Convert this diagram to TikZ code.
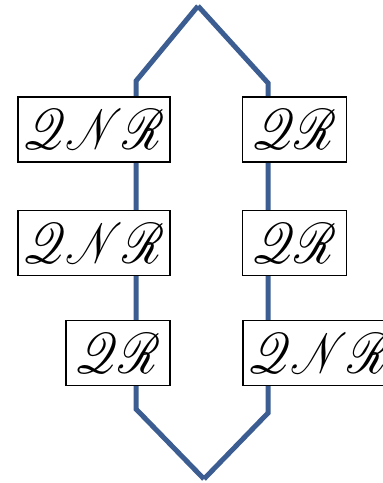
\documentclass[tikz,border=0pt]{standalone}
\usepackage{mathrsfs}
\usetikzlibrary{backgrounds,positioning}
\definecolor{wireblue}{RGB}{59,93,145}
\newcommand{\boxlabel}[1]{\scalebox{1.85}[2.3]{$\mathscr{#1}$}}
\tikzset{
  box/.style={draw, line width=1.5pt, fill=white, minimum height=65pt, inner sep=0pt,
    font=\Huge},
  qnr/.style={box, minimum width=152pt},
  qr/.style={box, minimum width=104pt},
  wire/.style={draw=wireblue, line width=5pt, line join=miter}
}
\begin{document}
\begin{tikzpicture}[x=1pt,y=-1pt]
  \useasboundingbox (0,0) rectangle (383,483);
  % left column
  \node[qnr] (l1) at (94,129.5) {\boxlabel{QNR}};
  \node[qnr] (l2) at (94,243) {\boxlabel{QNR}};
  \node[qr]  (l3) at (118,353) {\boxlabel{QR}};
  % right column
  \node[qr]  (r1) at (294.5,129.5) {\boxlabel{QR}};
  \node[qr]  (r2) at (294.5,243) {\boxlabel{QR}};
  \node[qnr] (r3) at (319,353) {\boxlabel{QNR}};
  % wires
  \coordinate (top) at (198,6);
  \coordinate (bot) at (204,479);
  \coordinate (ltop) at (136,81);
  \coordinate (lbot) at (136,409);
  \coordinate (rtop) at (268,83);
  \coordinate (rbot) at (268,413);
  \begin{scope}[on background layer]
    \draw[wire] (top) -- (ltop) -- (lbot) -- (bot);
    \draw[wire] (top) -- (rtop) -- (rbot) -- (bot);
  \end{scope}
\end{tikzpicture}
\end{document}
